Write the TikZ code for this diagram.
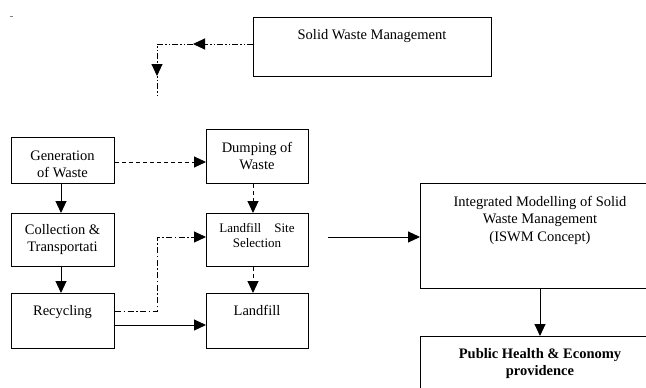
\documentclass[tikz,border=0pt]{standalone}
\usepackage{fontspec}
\setmainfont{Liberation Serif}
\usetikzlibrary{arrows.meta,decorations.markings,calc}
\newcommand\stackl[1]{\vtop{\halign{\hfil##\hfil\cr#1\crcr}}}
\begin{document}
\begin{tikzpicture}[x=1pt,y=-1pt,
  box/.style={draw, line width=1pt, inner sep=0pt, anchor=north west},
  txt/.style={inner sep=0pt, anchor=base, font=\fontsize{14.5}{17}\selectfont},
  tipA/.style={-{Triangle[length=12pt,width=11pt]}},
  conn/.style={line width=1pt},
  dashedline/.style={dash pattern=on 4pt off 3pt},
  dashdot/.style={dash pattern=on 6pt off 2.5pt on 1.5pt off 2.5pt},
  dashdotdot/.style={dash pattern=on 6pt off 2pt on 1.5pt off 2pt on 1.5pt off 2pt},
]
\clip (0,0) rectangle (646,388);
% boxes
\node[box, minimum width=238pt, minimum height=59pt] (swm) at (253,17) {};
\node[box, minimum width=103pt, minimum height=46pt] (gen) at (11,137) {};
\node[box, minimum width=103pt, minimum height=53pt] (coll) at (11,213) {};
\node[box, minimum width=103pt, minimum height=55pt] (rec) at (11,293) {};
\node[box, minimum width=102pt, minimum height=54pt] (dump) at (206,129) {};
\node[box, minimum width=102pt, minimum height=53pt] (lss) at (206,213) {};
\node[box, minimum width=102pt, minimum height=55pt] (lf) at (206,293) {};
\node[box, minimum width=240pt, minimum height=105pt] (iswm) at (420,183) {};
\node[box, minimum width=240pt, minimum height=70pt] (pub) at (420,336) {};
% texts
\node[txt] (swm-t) at (372,39.5) {Solid Waste Management};
\node[txt] (gen-t) at (62.5,160.5) {\stackl{Generation\cr of Waste}};
\node[txt] (coll-t) at (62.5,234.5) {\stackl{Collection \&\cr Transportati}};
\node[txt] (rec-t) at (62.5,315) {Recycling};
\node[txt] (dump-t) at (257,152) {\stackl{Dumping of\cr Waste}};
\node[txt, font=\fontsize{13}{14.5}\selectfont] (lss-t) at (257,232.5) {\stackl{Landfill\hspace{13pt}Site\cr Selection}};
\node[txt] (lf-t) at (257,315) {Landfill};
\node[txt, font=\fontsize{14.5}{17.5}\selectfont] (iswm-t) at (540,206) {\stackl{Integrated Modelling of Solid\cr Waste Management\cr (ISWM Concept)}};
\node[txt, font=\fontsize{14.5}{17}\selectfont\bfseries] (pub-t) at (540,358) {\stackl{Public Health \& Economy\cr providence}};
% free-end coordinates
\coordinate (c1) at (157,44);
\coordinate (c2) at (157,95);
\coordinate (c3) at (157,237);
\coordinate (c4) at (328,237);
% connectors
\draw[conn, dashdotdot, postaction={decorate},
  decoration={markings,
    mark=at position 60pt with {\arrow{Triangle[length=12pt,width=11pt]}},
    mark=at position 128pt with {\arrow{Triangle[length=12pt,width=11pt]}}}]
  ($(swm.north west)+(0,27)$) -- (c1) -- (c2);
\draw[conn, dashedline, tipA] ($(gen.north east)+(0,25)$) -- ($(dump.north west)+(0,33)$);
\draw[conn, dashedline, tipA] ($(dump.south west)+(47,0)$) -- ($(lss.north west)+(47,0)$);
\draw[conn, dashedline, tipA] ($(lss.south west)+(47,0)$) -- ($(lf.north west)+(47,0)$);
\draw[conn, tipA] ($(gen.south west)+(50,0)$) -- ($(coll.north west)+(50,0)$);
\draw[conn, tipA] ($(coll.south west)+(50,0)$) -- ($(rec.north west)+(50,0)$);
\draw[conn, dashdot, tipA] ($(rec.north east)+(0,18)$) -| (c3) -- ($(lss.north west)+(0,24)$);
\draw[conn, tipA] ($(rec.north east)+(0,32)$) -- ($(lf.north west)+(0,32)$);
\draw[conn, tipA] (c4) -- ($(iswm.north west)+(0,54)$);
\draw[conn, tipA] ($(iswm.south west)+(120,0)$) -- ($(pub.north west)+(120,0)$);
% small stray mark
\draw[gray, line width=0.8pt] (10,16.5) -- (12.5,16.5);
\end{tikzpicture}
\end{document}
